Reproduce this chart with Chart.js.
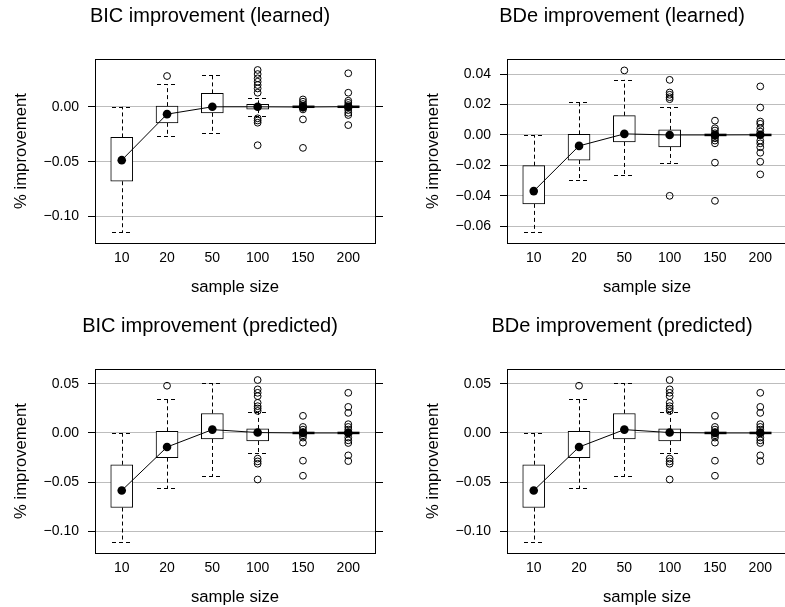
<!DOCTYPE html>
<html><head><meta charset="utf-8">
<script src="https://cdn.jsdelivr.net/npm/chart.js@4.4.0/dist/chart.umd.min.js"></script>
<style>
html,body{margin:0;padding:0;background:#fff;overflow:hidden;width:785px;height:607px;position:relative;}
canvas{position:absolute;}
</style></head><body>
<canvas id="c1" width="412" height="310" style="left:0px;top:0px"></canvas>
<canvas id="c2" width="412" height="310" style="left:412px;top:0px"></canvas>
<canvas id="c3" width="412" height="310" style="left:0px;top:310px"></canvas>
<canvas id="c4" width="412" height="310" style="left:412px;top:310px"></canvas>
<script>
// ---------- data ----------
const sampleSizes = ['10', '20', '50', '100', '150', '200'];

// BIC improvement (learned)
const bicLearnedTicks = [-0.10, -0.05, 0.00];
const bicLearnedLow  = [-0.114, -0.0265, -0.024, -0.0082, 0, 0];
const bicLearnedQ1   = [-0.0678, -0.0146, -0.0055, -0.0021, 0, 0];
const bicLearnedQ3   = [-0.0279, 0.0006, 0.0122, 0.0022, 0, 0];
const bicLearnedHigh = [0.0, 0.0207, 0.0292, 0.0077, 0, 0];
const bicLearnedMean = [-0.0486, -0.0067, 0.0, 0.0, -0.0002, 0.0001];
const bicLearnedOut  = [
  [],
  [0.028],
  [],
  [0.0335, 0.0298, 0.0259, 0.0228, 0.0198, 0.0167, 0.0128, -0.0105, -0.0125, -0.0145, -0.035],
  [0.0067, 0.0046, 0.0025, 0.001, -0.001, -0.0024, -0.0115, -0.0374],
  [0.0305, 0.0128, 0.0055, 0.0036, 0.0016, -0.0005, -0.003, -0.0055, -0.0075, -0.0167]
];

// BDe improvement (learned)
const bdeLearnedTicks = [-0.06, -0.04, -0.02, 0.00, 0.02, 0.04];
const bdeLearnedLow  = [-0.0639, -0.0297, -0.0264, -0.0182, 0, 0];
const bdeLearnedQ1   = [-0.0453, -0.0165, -0.0046, -0.0079, 0, 0];
const bdeLearnedQ3   = [-0.0202, 0.0004, 0.0127, 0.0033, 0, 0];
const bdeLearnedHigh = [0.0, 0.0215, 0.0362, 0.0182, 0, 0];
const bdeLearnedMean = [-0.0369, -0.0072, 0.0007, 0.0, 0.0, 0.0001];
const bdeLearnedOut  = [
  [],
  [],
  [0.0424],
  [0.0362, 0.0279, 0.0264, 0.0248, 0.0235, -0.04],
  [0.0094, 0.0044, 0.0029, 0.0011, -0.0007, -0.0022, -0.0037, -0.0055, -0.0182, -0.0433],
  [0.0319, 0.018, 0.0088, 0.0073, 0.0044, 0.0022, 0.0, -0.0037, -0.0055, -0.0081, -0.0117, -0.0176, -0.0259]
];

// BIC improvement (predicted)
const bicPredTicks = [-0.10, -0.05, 0.00, 0.05];
const bicPredLow  = [-0.1108, -0.0561, -0.0439, -0.020, 0, 0];
const bicPredQ1   = [-0.0758, -0.0251, -0.0061, -0.0082, 0, 0];
const bicPredQ3   = [-0.0323, 0.0017, 0.0198, 0.0041, 0, 0];
const bicPredHigh = [0.0, 0.0341, 0.0504, 0.0208, 0, 0];
const bicPredMean = [-0.0585, -0.0143, 0.0034, 0.0004, 0.0, 0.0];
const bicPredOut  = [
  [],
  [0.048],
  [],
  [0.0538, 0.0443, 0.0408, 0.0374, 0.0306, 0.0272, 0.0249, 0.0224, -0.0261, -0.0289, -0.0313, -0.0473],
  [0.0174, 0.0061, 0.0034, 0.001, -0.0024, -0.0047, -0.0098, -0.0282, -0.0435],
  [0.0408, 0.0265, 0.0204, 0.0089, 0.0061, 0.0034, 0.001, -0.0047, -0.0075, -0.0102, -0.0228, -0.0286]
];

// BDe improvement (predicted)
const bdePredTicks = [-0.10, -0.05, 0.00, 0.05];
const bdePredLow  = [-0.1108, -0.0561, -0.0439, -0.020, 0, 0];
const bdePredQ1   = [-0.0758, -0.0251, -0.0061, -0.0082, 0, 0];
const bdePredQ3   = [-0.0323, 0.0017, 0.0198, 0.0041, 0, 0];
const bdePredHigh = [0.0, 0.0341, 0.0504, 0.0208, 0, 0];
const bdePredMean = [-0.0585, -0.0143, 0.0034, 0.0004, 0.0, 0.0];
const bdePredOut  = [
  [],
  [0.048],
  [],
  [0.0538, 0.0443, 0.0408, 0.0374, 0.0306, 0.0272, 0.0249, 0.0224, -0.0261, -0.0289, -0.0313, -0.0473],
  [0.0174, 0.0061, 0.0034, 0.001, -0.0024, -0.0047, -0.0098, -0.0282, -0.0435],
  [0.0408, 0.0265, 0.0204, 0.0089, 0.0061, 0.0034, 0.001, -0.0047, -0.0075, -0.0102, -0.0228, -0.0286]
];

// ---------- rendering ----------
Chart.defaults.font.family = '"Liberation Sans", Arial, Helvetica, sans-serif';
Chart.defaults.color = '#000';

const fmtTick = v => (Math.abs(v) < 1e-9 ? '0.00' : v.toFixed(2).replace('-', '\u2212'));

const boxExtras = {
  id: 'boxExtras',
  beforeDatasetsDraw(chart) {
    const o = chart.options.plugins.boxExtras;
    const xs = chart.scales.x, ys = chart.scales.y, ctx = chart.ctx;
    const half = 10.5;
    ctx.save();
    ctx.strokeStyle = '#000';
    ctx.lineWidth = 1;
    for (let i = 0; i < o.q1.length; i++) {
      const px = Math.round(xs.getPixelForValue(i + 1)) + 0.5;
      const yq1 = ys.getPixelForValue(o.q1[i]);
      const yq3 = ys.getPixelForValue(o.q3[i]);
      const yl = ys.getPixelForValue(o.low[i]);
      const yh = ys.getPixelForValue(o.high[i]);
      ctx.setLineDash([4, 3]);
      ctx.beginPath();
      if (o.high[i] > o.q3[i]) { ctx.moveTo(px, yq3); ctx.lineTo(px, yh); }
      if (o.low[i] < o.q1[i]) { ctx.moveTo(px, yq1); ctx.lineTo(px, yl); }
      ctx.stroke();
      if (o.q3[i] - o.q1[i] > 1e-6) {
        ctx.beginPath();
        ctx.moveTo(px - half, Math.round(yh) + 0.5); ctx.lineTo(px + half, Math.round(yh) + 0.5);
        ctx.moveTo(px - half, Math.round(yl) + 0.5); ctx.lineTo(px + half, Math.round(yl) + 0.5);
        ctx.stroke();
      } else {
        ctx.setLineDash([]);
        ctx.lineWidth = 2.5;
        ctx.beginPath();
        ctx.moveTo(px - 11, yq1); ctx.lineTo(px + 11, yq1);
        ctx.stroke();
        ctx.lineWidth = 1;
      }
    }
    ctx.restore();
  },
  afterDraw(chart) {
    const o = chart.options.plugins.boxExtras;
    const a = chart.chartArea, ctx = chart.ctx;
    ctx.save();
    ctx.strokeStyle = '#000';
    ctx.lineWidth = 1;
    ctx.strokeRect(Math.round(a.left) + 0.5, Math.round(a.top) + 0.5,
                   Math.round(a.right - a.left), Math.round(a.bottom - a.top));
    ctx.fillStyle = '#000';
    ctx.font = '20px "Liberation Sans", Arial, Helvetica, sans-serif';
    ctx.textAlign = 'center';
    ctx.textBaseline = 'middle';
    ctx.fillText(o.title, (a.left + a.right) / 2 - 25, a.top - 43);
    ctx.restore();
  }
};

function makePanel(id, title, yMin, yMax, yTicks, low, q1, q3, high, mean, outs) {
  const outPts = [];
  outs.forEach((arr, i) => arr.forEach(v => outPts.push({ x: i + 1, y: v })));
  const setYTicks = s => { s.ticks = yTicks.map(v => ({ value: v })); };
  new Chart(document.getElementById(id), {
    type: 'bar',
    data: {
      datasets: [
        {
          type: 'line',
          data: mean.map((m, i) => ({ x: i + 1, y: m })),
          borderColor: '#000', borderWidth: 1,
          pointRadius: 4.3, pointBackgroundColor: '#000', pointBorderColor: '#000', pointBorderWidth: 0,
          fill: false, tension: 0
        },
        {
          type: 'scatter',
          data: outPts,
          pointRadius: 3.4, pointBorderWidth: 1, borderColor: '#000',
          backgroundColor: 'rgba(0,0,0,0)', pointBackgroundColor: 'rgba(0,0,0,0)', showLine: false
        },
        {
          type: 'bar',
          data: q1.map((q, i) => ({ x: i + 1, y: [q, q3[i]] })),
          backgroundColor: '#fff', borderColor: '#000', borderWidth: 1,
          borderSkipped: false, barThickness: 22, grouped: false
        }
      ]
    },
    options: {
      responsive: false, animation: false, devicePixelRatio: 1,
      layout: { padding: { left: 0, top: 59, right: 29, bottom: 13 } },
      plugins: {
        legend: { display: false }, tooltip: { enabled: false }, title: { display: false },
        boxExtras: { title, low, q1, q3, high }
      },
      scales: {
        x: {
          type: 'linear', min: 0.41, max: 6.59, offset: false,
          afterBuildTicks: s => { s.ticks = sampleSizes.map((_, i) => ({ value: i + 1 })); },
          afterFit: s => { s.height = 54; },
          ticks: {
            callback: v => sampleSizes[Math.round(v) - 1],
            padding: 7, font: { size: 14 }, color: '#000', maxRotation: 0, autoSkip: false
          },
          grid: { display: false, drawTicks: false, offset: false },
          border: { display: false },
          title: { display: true, text: 'sample size', font: { size: 16.7 }, color: '#000', padding: { top: 0, bottom: 0 } }
        },
        y: {
          type: 'linear', position: 'left', min: yMin, max: yMax,
          afterBuildTicks: setYTicks,
          afterFit: s => { s.width = 95; },
          ticks: { callback: v => fmtTick(v), padding: 9, font: { size: 14 }, color: '#000' },
          grid: { color: '#bdbdbd', tickColor: '#000', tickLength: 7, lineWidth: 1 },
          border: { display: false },
          title: { display: true, text: '% improvement', font: { size: 16.7 }, color: '#000', padding: { top: 11, bottom: 0 } }
        },
        y2: {
          type: 'linear', position: 'right', min: yMin, max: yMax,
          afterBuildTicks: setYTicks,
          afterFit: s => { s.width = 8; },
          ticks: { display: false },
          grid: { drawOnChartArea: false, tickColor: '#000', tickLength: 8 },
          border: { display: false }
        }
      }
    },
    plugins: [boxExtras]
  });
}

makePanel('c1', 'BIC improvement (learned)', -0.124, 0.0435, bicLearnedTicks,
  bicLearnedLow, bicLearnedQ1, bicLearnedQ3, bicLearnedHigh, bicLearnedMean, bicLearnedOut);
makePanel('c2', 'BDe improvement (learned)', -0.071, 0.0499, bdeLearnedTicks,
  bdeLearnedLow, bdeLearnedQ1, bdeLearnedQ3, bdeLearnedHigh, bdeLearnedMean, bdeLearnedOut);
makePanel('c3', 'BIC improvement (predicted)', -0.122, 0.065, bicPredTicks,
  bicPredLow, bicPredQ1, bicPredQ3, bicPredHigh, bicPredMean, bicPredOut);
makePanel('c4', 'BDe improvement (predicted)', -0.122, 0.065, bdePredTicks,
  bdePredLow, bdePredQ1, bdePredQ3, bdePredHigh, bdePredMean, bdePredOut);
</script>
</body></html>
